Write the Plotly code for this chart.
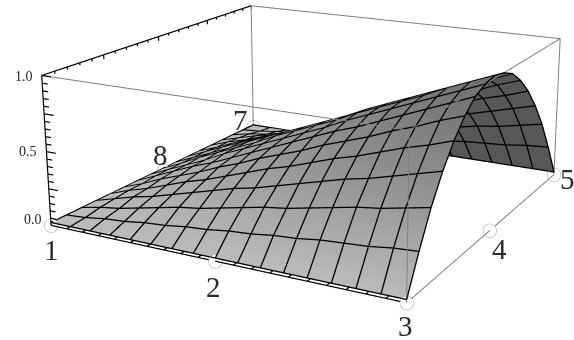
import numpy as np
import plotly.graph_objects as go

# ---- data ----
x_grid = [-1,-.875,-.75,-.625,-.5,-.375,-.25,-.125,0,.125,.25,.375,.5,.625,.75,.875,1]
y_grid = [-1,-.875,-.75,-.625,-.5,-.375,-.25,-.125,0,.125,.25,.375,.5,.625,.75,.875,1]
r0 = [0]*17
r1 = [0,.01,.03,.04,.06,.07,.09,.10,.12,.13,.15,.16,.18,.19,.20,.22,.23]
r2 = [0,.03,.05,.08,.11,.14,.16,.19,.22,.25,.27,.30,.33,.36,.38,.41,.44]
r3 = [0,.04,.08,.11,.15,.19,.23,.27,.30,.34,.38,.42,.46,.49,.53,.57,.61]
r4 = [0,.05,.09,.14,.19,.23,.28,.33,.38,.42,.47,.52,.56,.61,.66,.70,.75]
r5 = [0,.05,.11,.16,.21,.27,.32,.38,.43,.48,.54,.59,.64,.70,.75,.81,.86]
r6 = [0,.06,.12,.18,.23,.29,.35,.41,.47,.53,.59,.64,.70,.76,.82,.88,.94]
r7 = [0,.06,.12,.18,.25,.31,.37,.43,.49,.55,.62,.68,.74,.80,.86,.92,.98]
r8 = [0,.06,.13,.19,.25,.31,.38,.44,.50,.56,.63,.69,.75,.81,.88,.94,1.0]
z_rows = [r0,r1,r2,r3,r4,r5,r6,r7,r8,r7,r6,r5,r4,r3,r2,r1,r0]
node_x = [-1,0,1,1,1,0,-1,-1]
node_y = [-1,-1,-1,0,1,1,1,0]
node_labels = ['1','2','3','4','5','6','7','8']
z_tick_labels = ['0.0','0.5','1.0']

# ---- view: box corners as they sit in the 574x340 frame ----
W, H = 574, 340
view_pix = np.array([[50,225],[216,263],[407,303],[491,229],[552,175],[254,127],[43,75],[407,130],[562,39],[250,6]], float)
view_box = np.array([[-1,-1,-1],[0,-1,-1],[1,-1,-1],[1,0,-1],[1,1,-1],[-1,1,-1],[-1,-1,1],[1,-1,1],[1,1,1],[-1,1,1]], float)/2
rows, rhs = [], []
for (px, py), u in zip(view_pix, view_box):
    rows.append([*u, 1, 0, 0, 0, 0, *(-px*u)]); rhs.append(px)
    rows.append([0, 0, 0, 0, *u, 1, *(-py*u)]); rhs.append(py)
sol = np.linalg.lstsq(np.array(rows), np.array(rhs), rcond=None)[0]
M3 = np.array([sol[:3], sol[4:7]]); T3 = np.array([sol[3], sol[7]]); DEPTH = sol[8:11]
C0 = np.array([W/2, H/2])
Mp = M3 - C0[:, None]*DEPTH
tp = T3 - C0
OFFSET = np.linalg.pinv(Mp) @ tp
m1, m2 = Mp[0], -Mp[1]
dd = np.linalg.solve(np.array([m1*m2, m1*m1, m2*m2]), [0, 1, 1])
A1 = 1/np.sqrt(dd)
R1, R2 = m1/A1, m2/A1
R3 = np.cross(R1, R2)
DIST = 4.0
SCALE = H/2
SPAN = 1.5
LIFT = 0.02
a_unit = A1/SCALE

def place(x, y, z):
    u = np.stack([np.asarray(x, float)/2, np.asarray(y, float)/2, np.asarray(z, float)-.5], -1)
    return (u+OFFSET)/(1+u@DEPTH)[..., None]

Z = np.array(z_rows, float)
XX, YY = np.meshgrid(x_grid, y_grid)
Zs = Z + LIFT
S = place(XX, YY, Zs)

# visible side of the sheet, from the point of view
P = np.vstack([np.c_[M3, T3], np.r_[DEPTH, 1]])
Ev = np.linalg.svd(P)[2][-1]; Ev = Ev[:3]/Ev[3]
dzy, dzx = np.gradient(Z, .0625, .0625)
facing = -dzx*(Ev[0]-XX/2) - dzy*(Ev[1]-YY/2) + (Ev[2]-(Z-.5))
shade = np.where(facing > 0, .62-.26*Z, .27)

fig = go.Figure()
fig.add_trace(go.Surface(x=S[..., 0], y=S[..., 1], z=S[..., 2], surfacecolor=shade,
                         colorscale='Greys_r', cmin=0, cmax=1, showscale=False,
                         lighting=dict(ambient=1, diffuse=0, specular=0, roughness=1, fresnel=0),
                         hoverinfo='skip'))

toward = R3/a_unit

def line_trace(groups, color, width, nudge=0.0):
    xs, ys, zs = [], [], []
    for pts in groups:
        q = place(*np.array(pts, float).T) + nudge*toward
        xs += list(q[:, 0])+[None]; ys += list(q[:, 1])+[None]; zs += list(q[:, 2])+[None]
    return go.Scatter3d(x=xs, y=ys, z=zs, mode='lines', line=dict(color=color, width=width), hoverinfo='skip')

mesh = [[(x_grid[i], y_grid[j], Zs[j, i]) for i in range(17)] for j in range(17)]
mesh += [[(x_grid[i], y_grid[j], Zs[j, i]) for j in range(17)] for i in range(17)]
fig.add_trace(line_trace(mesh, '#000000', 2.6, 0.01))

box = [[(-1,-1,1),(1,-1,1),(1,1,1),(-1,1,1)],
       [(1,-1,0),(1,-1,1)], [(1,1,0),(1,1,1)], [(-1,1,0),(-1,1,1)],
       [(1,-1,0),(1,1,0)]]
fig.add_trace(line_trace(box, '#808080', 2))

axes = [[(-1,-1,0),(1,-1,0)], [(-1,-1,1),(-1,1,1)], [(-1,-1,0),(-1,-1,1)]]
for k in range(21):
    t = k/20; L = .06 if k % 5 == 0 else .035
    axes.append([(-1+2*t,-1,0),(-1+2*t,-1+L,0)])
    axes.append([(-1,-1+2*t,1),(-1,-1+2*t,1-L/2)])
    axes.append([(-1,-1,t),(-1+L,-1,t)])
fig.add_trace(line_trace(axes, '#000000', 2.4))

nq = place(node_x, node_y, [0]*8)
fig.add_trace(go.Scatter3d(x=nq[:, 0], y=nq[:, 1], z=nq[:, 2], mode='markers',
                           marker=dict(size=8, color='white', line=dict(color='#a0a0a0', width=1)),
                           hoverinfo='skip'))

label_at = {'1': (51, 250), '2': (213, 287), '3': (405, 326), '4': (499, 249), '5': (567, 179), '7': (240, 120), '8': (160, 155)}
for lab in node_labels:
    if lab in label_at:
        px, py = label_at[lab]
        fig.add_annotation(xref='paper', yref='paper', x=px/W, y=1-py/H, text=lab, showarrow=False,
                           xanchor='center', yanchor='middle',
                           font=dict(family='Liberation Serif', size=29, color='#2a2a2a'))
tick_at = {'0.0': (33, 219), '0.5': (28, 151), '1.0': (24, 76)}
for lab in z_tick_labels:
    px, py = tick_at[lab]
    fig.add_annotation(xref='paper', yref='paper', x=px/W, y=1-py/H, text=lab, showarrow=False,
                       xanchor='center', yanchor='middle',
                       font=dict(family='Liberation Serif', size=14, color='#222222'))

eye = DIST*R3
axis = dict(visible=False, range=[-SPAN, SPAN], autorange=False)
ar = a_unit*2*SPAN
fig.update_layout(width=W, height=H, margin=dict(l=0, r=0, t=0, b=0), paper_bgcolor='white',
                  showlegend=False,
                  scene=dict(xaxis=axis, yaxis=axis, zaxis=axis, bgcolor='white',
                             aspectmode='manual', aspectratio=dict(x=ar[0], y=ar[1], z=ar[2]),
                             domain=dict(x=[0, 1], y=[0, 1]),
                             camera=dict(projection=dict(type='orthographic'),
                                         eye=dict(x=eye[0], y=eye[1], z=eye[2]),
                                         center=dict(x=0, y=0, z=0),
                                         up=dict(x=R2[0], y=R2[1], z=R2[2]))))
fig.write_html('out.html', config=dict(displayModeBar=False), post_script="document.body.style.margin='0';")
